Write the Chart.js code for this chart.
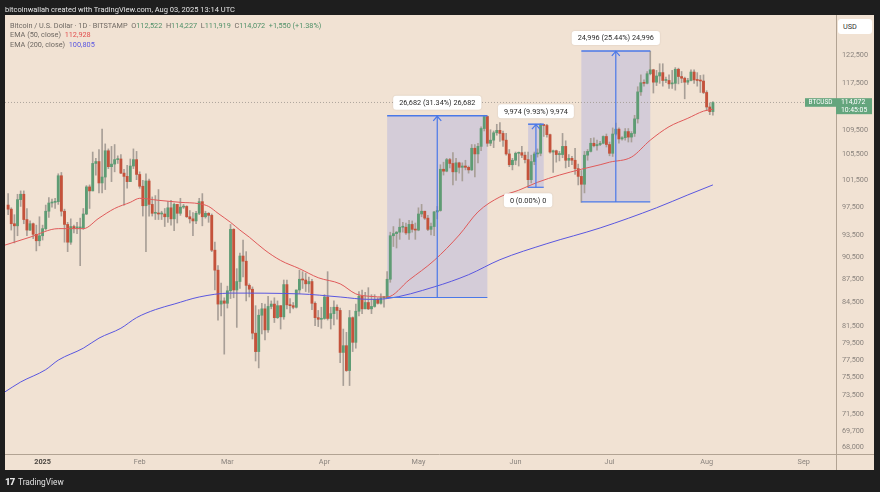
<!DOCTYPE html>
<html><head><meta charset="utf-8">
<script src="https://cdn.jsdelivr.net/npm/chart.js@4.4.1/dist/chart.umd.min.js"></script>
<style>
html,body{margin:0;padding:0;background:#1e1e1e;width:880px;height:492px;overflow:hidden;font-family:Roboto,"Noto Sans",sans-serif;}
#wrap{position:relative;width:880px;height:492px;}
canvas{position:absolute;left:0;top:0;}
.t{position:absolute;white-space:nowrap;font-size:7.3px;line-height:1;}
.g{color:#4f9068;} .k{color:#6f6963;}
</style></head><body>
<div id="wrap">
<canvas id="c" width="880" height="492"></canvas>
<div class="t" style="left:5px;top:6px;color:#e4e4e4;font-size:7.5px;">bitcoinwallah created with TradingView.com, Aug 03, 2025 13:14 UTC</div>
<div class="t k" style="left:10px;top:21.6px;">Bitcoin / U.S. Dollar · 1D · BITSTAMP&nbsp;&nbsp;O<span class="g">112,522</span>&nbsp;&nbsp;H<span class="g">114,227</span>&nbsp;&nbsp;L<span class="g">111,919</span>&nbsp;&nbsp;C<span class="g">114,072</span>&nbsp;&nbsp;<span class="g">+1,550 (+1.38%)</span></div>
<div class="t k" style="left:10px;top:31.4px;">EMA (50, close)&nbsp;&nbsp;<span style="color:#e2504f">112,928</span></div>
<div class="t k" style="left:10px;top:41.3px;">EMA (200, close)&nbsp;&nbsp;<span style="color:#5a57e0">100,805</span></div>
<div class="t" style="left:838px;top:19px;width:34px;height:15px;background:#fff;border-radius:3px;color:#333;line-height:15px;text-indent:5px;">USD</div>
<div class="t" style="left:5px;top:477px;color:#e6e6e6;font-size:9.5px;font-weight:900;letter-spacing:-0.8px;">17</div>
<div class="t" style="left:18px;top:478px;color:#e0e0e0;font-size:8.3px;">TradingView</div>
</div>
<script>
// ---------------- DATA ----------------
const firstDate = '2024-12-21';
// daily OHLC, thousands of USD (Dec 21 2024 ... Aug 3 2025)
const opens = [
97.8,97.2,95.1,94.8,98.6,99.4,95.7,94.2,95.1,93.6,92.7,
93.4,94.4,96.9,98.1,98.2,98.3,102.2,96.9,95.0,92.5,94.7,94.5,94.5,94.5,96.5,100.5,99.9,104.1,104.4,101.1,102.0,106.1,103.6,104.0,104.7,104.8,102.6,102.1,101.3,103.7,104.7,
102.4,100.6,97.7,101.4,97.9,96.6,96.6,96.5,96.5,96.1,97.4,95.8,97.9,96.6,97.5,97.6,96.1,95.8,95.5,96.6,98.3,96.1,96.6,96.3,91.4,88.7,84.3,84.7,
84.4,86.0,94.3,86.1,87.2,90.6,89.9,86.7,86.2,80.7,78.5,82.9,83.7,81.1,84.0,84.3,82.6,84.1,82.7,86.8,84.2,84.1,83.9,86.1,87.5,87.4,86.9,87.2,84.4,82.6,82.4,
82.5,85.2,82.5,83.1,83.9,83.5,78.4,79.2,76.3,82.6,79.6,83.4,85.3,83.7,84.5,83.7,84.0,84.9,84.4,85.1,85.1,87.5,93.4,93.7,93.9,94.6,94.6,93.8,95.0,94.3,
94.2,96.5,96.9,95.9,94.3,94.7,96.8,97.0,103.2,102.9,104.7,104.1,102.8,104.2,103.5,103.7,103.5,103.1,106.5,105.6,106.8,109.7,111.7,107.3,107.8,109.0,109.4,108.9,107.8,105.6,103.9,
104.6,105.7,105.8,105.4,104.7,101.6,104.4,105.6,105.7,110.3,110.2,108.7,105.9,106.1,105.5,105.5,106.8,104.6,104.9,104.6,103.3,102.1,100.9,105.4,106.0,107.3,106.9,107.1,107.3,108.4,
107.1,105.7,108.8,109.6,108.0,108.2,109.2,108.3,108.9,111.3,115.9,117.5,117.4,119.1,119.8,117.6,118.7,119.3,117.9,117.9,117.3,117.4,119.9,118.6,118.3,117.6,117.9,119.4,118.0,117.9,117.8,
115.8,113.3,112.522];
const highs = [
99.5,97.4,96.4,99.4,99.9,99.9,97.3,95.5,95.2,94.9,96.1,
94.9,97.8,98.9,98.7,98.8,102.5,102.7,97.2,95.3,95.8,94.9,95.3,95.9,97.3,100.7,100.8,105.9,104.9,106.3,109.6,107.2,106.4,106.8,107.1,105.3,105.5,103.2,103.8,104.8,106.4,106.0,
102.8,101.5,102.5,101.7,99.0,99.2,100.1,96.9,97.3,98.3,98.5,98.1,97.9,98.8,97.9,97.7,97.0,96.7,96.9,98.8,99.5,96.9,96.7,96.5,92.5,89.3,87.0,85.1,
86.6,95.0,94.4,88.9,91.0,92.8,91.2,86.9,86.5,84.1,83.6,84.4,84.3,85.3,84.7,85.1,84.7,84.1,87.4,87.4,85.0,84.5,86.1,88.7,88.5,88.3,87.8,87.5,84.6,83.5,83.9,
85.5,88.5,83.9,84.7,84.2,83.8,81.2,80.8,83.5,82.7,84.3,85.9,86.1,85.8,86.4,85.5,85.5,85.1,85.6,85.3,88.5,93.9,94.7,94.0,95.8,95.3,95.2,95.6,95.5,95.2,
97.4,97.9,96.9,96.3,95.2,96.9,97.6,103.9,104.3,104.9,104.9,105.8,104.9,104.3,104.2,104.6,103.7,107.1,107.1,107.3,110.0,111.9,111.8,109.5,109.3,110.4,110.7,109.3,108.9,106.3,104.9,
105.9,105.9,106.8,105.9,105.9,105.4,105.9,106.4,110.5,110.4,110.4,108.8,106.2,106.2,106.0,108.9,107.7,105.5,105.2,106.5,104.0,103.0,106.0,106.3,108.1,108.2,107.8,107.6,108.5,108.8,
107.5,109.8,110.6,109.8,108.4,109.7,109.7,109.2,111.9,116.8,118.9,118.0,119.5,123.2,119.9,119.7,120.9,120.9,118.5,118.9,119.7,120.2,120.1,119.5,118.5,118.3,119.8,119.8,119.3,118.8,118.9,
116.1,114.0,114.227];
const lows = [
96.4,94.2,92.4,93.4,97.6,95.1,93.4,94.1,93.0,91.3,92.0,
92.8,94.2,96.0,97.5,97.3,97.9,96.2,92.5,91.2,92.2,93.8,93.7,89.3,94.3,96.4,97.3,99.9,102.3,99.6,99.6,100.1,103.3,101.3,102.8,104.1,102.5,97.8,100.3,101.3,103.3,101.6,
100.3,96.2,91.2,96.2,96.2,95.7,95.7,95.7,94.7,95.3,94.9,94.1,95.2,96.3,97.3,96.0,95.2,93.4,95.1,96.4,94.8,95.9,95.3,91.2,86.1,82.3,82.8,78.2,
83.8,85.0,85.1,81.4,86.3,87.8,84.7,85.2,80.0,77.4,76.6,80.6,79.9,80.8,83.7,82.0,82.5,81.2,82.4,83.7,83.2,83.7,83.8,85.6,86.3,85.9,85.8,83.6,81.6,81.5,81.3,
82.4,82.3,81.2,81.7,82.4,77.2,74.6,76.2,74.6,78.5,78.9,82.8,83.1,83.7,83.6,83.1,83.9,84.3,84.3,83.9,85.1,87.1,91.9,91.7,92.9,93.9,93.6,92.9,93.9,92.9,
94.1,96.1,95.7,94.1,93.5,93.4,95.8,96.9,102.3,102.8,103.4,100.8,101.5,102.6,101.4,103.1,102.6,103.0,102.0,104.2,106.1,109.3,106.8,106.9,106.6,108.6,107.6,106.8,105.4,103.6,103.1,
103.9,103.7,105.0,104.2,100.4,101.1,103.9,105.1,105.3,108.4,108.3,105.7,102.7,104.3,104.5,105.0,103.4,103.6,103.9,102.4,100.8,98.2,99.6,104.6,105.9,106.7,106.2,106.9,107.2,106.7,
105.3,105.2,108.6,107.3,107.8,107.8,107.5,107.5,108.4,110.6,115.3,116.9,117.3,118.9,115.7,117.0,117.4,116.9,117.5,116.5,116.5,116.2,117.3,117.5,114.7,117.2,117.8,117.4,116.9,115.8,115.6,
112.7,112.0,111.919];
const closes = [
97.2,95.1,94.8,98.6,99.4,95.7,94.2,95.1,93.6,92.7,93.4,
94.4,96.9,98.1,98.2,98.3,102.2,96.9,95.0,92.5,94.7,94.5,94.5,94.5,96.5,100.5,99.9,104.1,104.4,101.1,102.0,106.1,103.6,104.0,104.7,104.8,102.6,102.1,101.3,103.7,104.7,102.4,
100.6,97.7,101.4,97.9,96.6,96.6,96.5,96.5,96.1,97.4,95.8,97.9,96.6,97.5,97.6,96.1,95.8,95.5,96.6,98.3,96.1,96.6,96.3,91.4,88.7,84.3,84.7,84.4,
86.0,94.3,86.1,87.2,90.6,89.9,86.7,86.2,80.7,78.5,82.9,83.7,81.1,84.0,84.3,82.6,84.1,82.7,86.8,84.2,84.1,83.9,86.1,87.5,87.4,86.9,87.2,84.4,82.6,82.4,82.5,
85.2,82.5,83.1,83.9,83.5,78.4,79.2,76.3,82.6,79.6,83.4,85.3,83.7,84.5,83.7,84.0,84.9,84.4,85.1,85.1,87.5,93.4,93.7,93.9,94.6,94.6,93.8,95.0,94.3,94.2,
96.5,96.9,95.9,94.3,94.7,96.8,97.0,103.2,102.9,104.7,104.1,102.8,104.2,103.5,103.7,103.5,103.1,106.5,105.6,106.8,109.7,111.7,107.3,107.8,109.0,109.4,108.9,107.8,105.6,103.9,104.6,
105.7,105.8,105.4,104.7,101.6,104.4,105.6,105.7,110.3,110.2,108.7,105.9,106.1,105.5,105.5,106.8,104.6,104.9,104.6,103.3,102.1,100.9,105.4,106.0,107.3,106.9,107.1,107.3,108.4,107.1,
105.7,108.8,109.6,108.0,108.2,109.2,108.3,108.9,111.3,115.9,117.5,117.4,119.1,119.8,117.6,118.7,119.3,117.9,117.9,117.3,117.4,119.9,118.6,118.3,117.6,117.9,119.4,118.0,117.9,117.8,115.8,
113.3,112.522,114.072];

// EMA readings (thousands of USD)
const ema50Dates = ['2024-12-20','2024-12-28','2025-01-06','2025-01-14','2025-01-19','2025-01-24','2025-01-29','2025-02-01','2025-02-07','2025-02-14','2025-02-20','2025-02-23','2025-02-26','2025-03-02','2025-03-05','2025-03-08','2025-03-13','2025-03-18','2025-03-24','2025-03-30','2025-04-06','2025-04-11','2025-04-15','2025-04-21','2025-04-28','2025-05-06','2025-05-14','2025-05-20','2025-05-27','2025-06-02','2025-06-08','2025-06-15','2025-06-22','2025-06-28','2025-07-01','2025-07-08','2025-07-14','2025-07-20','2025-07-26','2025-07-31','2025-08-03'];
const ema50Values = [92.1,93.2,94.4,94.4,95.9,97.3,98.2,98.8,98.5,98.2,98.0,97.6,96.6,95.3,94.2,93.2,91.4,90.0,88.9,87.7,86.9,85.6,85.3,85.2,87.4,90.0,93.5,96.8,99.0,100.0,101.2,102.3,103.2,103.9,104.3,105.1,107.8,110.0,111.4,112.6,112.928];
const ema200Dates = ['2024-12-20','2024-12-25','2025-01-02','2025-01-06','2025-01-14','2025-01-19','2025-01-26','2025-01-31','2025-02-06','2025-02-12','2025-02-20','2025-03-02','2025-03-24','2025-04-06','2025-04-15','2025-04-21','2025-05-06','2025-05-17','2025-05-27','2025-06-11','2025-06-28','2025-07-16','2025-07-26','2025-08-03'];
const ema200Values = [73.9,75.0,76.4,77.5,78.9,80.1,81.3,82.6,83.6,84.3,85.2,85.7,85.6,85.2,84.9,85.0,86.5,88.1,90.1,92.3,94.5,97.4,99.3,100.805];

const lastPrice = 114072;
const yTickValues = [122500,117500,109500,105500,101500,97500,93500,90500,87500,84500,81500,79500,77500,75500,73500,71500,69700,68000];
const monthTickDates = ['2025-01-01','2025-02-01','2025-03-01','2025-04-01','2025-05-01','2025-06-01','2025-07-01','2025-08-01','2025-09-01'];
const monthTickLabels = ['2025','Feb','Mar','Apr','May','Jun','Jul','Aug','Sep'];

// price-range measurements
const rangeStart = ['2025-04-21','2025-06-05','2025-06-22'];
const rangeEnd   = ['2025-05-23','2025-06-10','2025-07-14'];
const rangeLow   = [85137,100443,98255];
const rangeHigh  = [111819,110417,123251];
const rangeText  = ['26,682 (31.34%) 26,682','9,974 (9.93%) 9,974','24,996 (25.44%) 24,996'];
const zeroRangeDate = '2025-06-05';
const zeroRangePrice = 100443;
const zeroRangeText = '0 (0.00%) 0';

// ---------------- BUILD ----------------
const K = 1000;
const DAY0 = Date.UTC(2025,0,1);
function dayOf(s){const p=s.split('-').map(Number);return (Date.UTC(p[0],p[1]-1,p[2])-DAY0)/86400000;}
const d0 = dayOf(firstDate);
const xMin = -12.0, xMax = 253.3;
const yMin = 67320, yMax = 130070;
const UP='#5e9c74', DOWN='#c4523b', WICK='#a89f97';
const PANEL='#f1e2d3';
const FONT='Roboto, "Noto Sans", sans-serif';

const wickData = highs.map((h,i)=>({x:d0+i, y:[lows[i]*K, h*K]}));
const bodyData = opens.map((o,i)=>({x:d0+i, y:[o*K, closes[i]*K]}));
const bodyColors = opens.map((o,i)=> closes[i]>=o ? UP : DOWN);
const ema50Data = ema50Dates.map((d,i)=>({x:dayOf(d), y:ema50Values[i]*K}));
const ema200Data = ema200Dates.map((d,i)=>({x:dayOf(d), y:ema200Values[i]*K}));

function rr(c,x,y,w,h,r){c.beginPath();c.moveTo(x+r,y);c.lineTo(x+w-r,y);c.quadraticCurveTo(x+w,y,x+w,y+r);c.lineTo(x+w,y+h-r);c.quadraticCurveTo(x+w,y+h,x+w-r,y+h);c.lineTo(x+r,y+h);c.quadraticCurveTo(x,y+h,x,y+h-r);c.lineTo(x,y+r);c.quadraticCurveTo(x,y,x+r,y);c.closePath();}
function tag(c,text,cx,cy){
  c.font='7.3px '+FONT;
  const w=c.measureText(text).width+12, h=14;
  c.save(); c.shadowColor='rgba(0,0,0,0.12)'; c.shadowBlur=2;
  c.fillStyle='#ffffff'; rr(c,cx-w/2,cy-h/2,w,h,3); c.fill(); c.restore();
  c.fillStyle='#2a2a2a'; c.textAlign='center'; c.textBaseline='middle'; c.fillText(text,cx,cy+0.5);
}

const decor = {
  id:'decor',
  beforeDraw(chart){
    const c=chart.ctx; c.save();
    c.fillStyle='#1e1e1e'; c.fillRect(0,0,880,492);
    c.fillStyle=PANEL; c.fillRect(5,15,869,455);
    c.restore();
  },
  beforeDatasetsDraw(chart){
    const c=chart.ctx, xs=chart.scales.x, ys=chart.scales.y;
    c.save();
    rangeStart.forEach((s,i)=>{
      const x1=xs.getPixelForValue(dayOf(s)), x2=xs.getPixelForValue(dayOf(rangeEnd[i]));
      const y1=ys.getPixelForValue(rangeHigh[i]), y2=ys.getPixelForValue(rangeLow[i]);
      c.fillStyle='rgba(102,122,238,0.2)'; c.fillRect(x1,y1,x2-x1,y2-y1);
    });
    c.restore();
  },
  afterDatasetsDraw(chart){
    const c=chart.ctx, xs=chart.scales.x, ys=chart.scales.y, a=chart.chartArea;
    c.save();
    rangeStart.forEach((s,i)=>{
      const x1=xs.getPixelForValue(dayOf(s)), x2=xs.getPixelForValue(dayOf(rangeEnd[i]));
      const y1=ys.getPixelForValue(rangeHigh[i]), y2=ys.getPixelForValue(rangeLow[i]);
      const xm=(x1+x2)/2;
      c.strokeStyle='#4a78e8';
      c.lineWidth=1.5; c.beginPath(); c.moveTo(x1,y1); c.lineTo(x2,y1); c.stroke();
      c.lineWidth=1.2; c.beginPath(); c.moveTo(x1,y2); c.lineTo(x2,y2); c.stroke();
      c.lineWidth=1.2; c.beginPath(); c.moveTo(xm,y2); c.lineTo(xm,y1); c.stroke();
      c.beginPath(); c.moveTo(xm-4,y1+5); c.lineTo(xm,y1+0.5); c.lineTo(xm+4,y1+5); c.stroke();
      tag(c,rangeText[i],xm,y1-13);
    });
    const zx=xs.getPixelForValue(dayOf(zeroRangeDate)), zy=ys.getPixelForValue(zeroRangePrice);
    tag(c,zeroRangeText,zx,zy+13);
    // axis lines
    c.strokeStyle='#b2a393'; c.lineWidth=1;
    c.beginPath(); c.moveTo(a.right+0.5,15); c.lineTo(a.right+0.5,470); c.stroke();
    c.beginPath(); c.moveTo(5,a.bottom+0.5); c.lineTo(874,a.bottom+0.5); c.stroke();
    // last price tag
    const py=ys.getPixelForValue(lastPrice);
    c.fillStyle='#64a57d';
    c.fillRect(a.right-31,py-4.3,31,8.6);
    c.fillRect(a.right,py-4.3,36,16);
    c.fillStyle='#ffffff'; c.font='6.4px '+FONT; c.textBaseline='middle';
    c.textAlign='center'; c.fillText('BTCUSD',a.right-15.5,py+0.3);
    c.font='6.8px '+FONT; c.textAlign='left';
    c.fillText('114,072',a.right+5,py+0.3);
    c.fillText('10:45:05',a.right+5,py+7.8);
    c.restore();
  }
};

new Chart(document.getElementById('c'), {
  type:'bar',
  data:{datasets:[
    {type:'line', data:ema50Data, borderColor:'#e05a5a', borderWidth:1, pointRadius:0, cubicInterpolationMode:'monotone', order:0},
    {type:'line', data:ema200Data, borderColor:'#5a57e0', borderWidth:1, pointRadius:0, cubicInterpolationMode:'monotone', order:0},
    {type:'line', data:[{x:xMin,y:lastPrice},{x:xMax,y:lastPrice}], borderColor:'#9d968f', borderWidth:0.8, borderDash:[1,2], pointRadius:0, order:4},
    {type:'bar', data:bodyData, backgroundColor:bodyColors, barThickness:2.2, minBarLength:1, grouped:false, order:1},
    {type:'bar', data:wickData, backgroundColor:WICK, barThickness:1, grouped:false, order:2}
  ]},
  options:{
    responsive:false, animation:false,
    layout:{padding:{left:5,top:15,right:6,bottom:22}},
    plugins:{legend:{display:false}, tooltip:{enabled:false}},
    scales:{
      x:{type:'linear', min:xMin, max:xMax, offset:false,
         grid:{display:false, drawTicks:false}, border:{display:false},
         afterBuildTicks:s=>{s.ticks=monthTickDates.map(d=>({value:dayOf(d)}));},
         afterFit:s=>{s.height=16;},
         ticks:{autoSkip:false, maxRotation:0, padding:4,
           color:ctx=>ctx.index===0?'#4a4540':'#8b847e',
           font:ctx=>({family:FONT, size:7.3, weight:ctx.index===0?'bold':'normal'}),
           callback:(v,i)=>monthTickLabels[i]}},
      y:{type:'logarithmic', position:'right', min:yMin, max:yMax,
         grid:{display:false, drawTicks:false}, border:{display:false},
         afterBuildTicks:s=>{s.ticks=yTickValues.map(v=>({value:v}));},
         afterFit:s=>{s.width=38;},
         ticks:{autoSkip:false, padding:6, color:'#8b847e', font:{family:FONT, size:7.3},
           callback:v=>Number(v).toLocaleString('en-US')}}
    }
  },
  plugins:[decor]
});
</script>
</body></html>
